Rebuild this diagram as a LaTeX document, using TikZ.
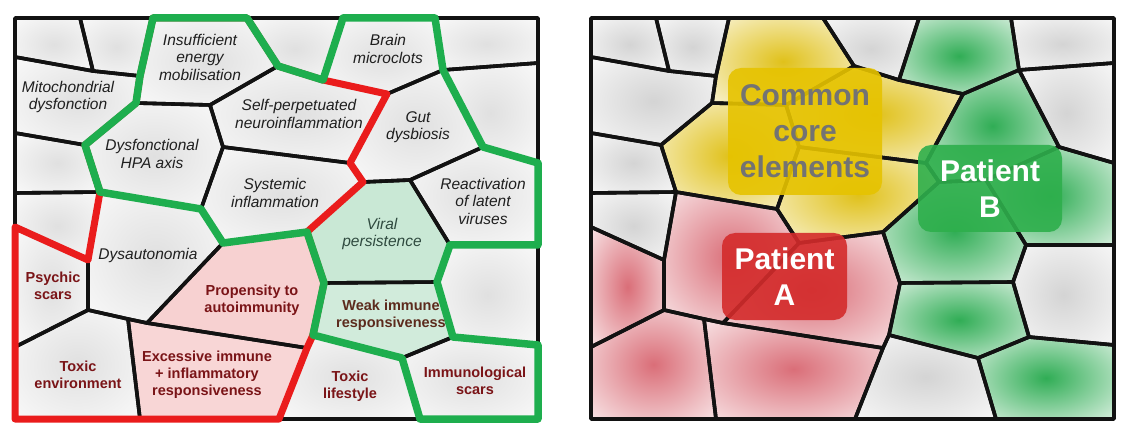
\documentclass[tikz,border=0pt]{standalone}
\usepackage{fontspec}
\setmainfont{Liberation Sans}
\usepackage{tikz}

\definecolor{lineA}{HTML}{EA1C1C}
\definecolor{lineB}{HTML}{1EAE4E}
\definecolor{cellgray}{HTML}{D4D4D4}
\definecolor{lightgray}{HTML}{E0E0E0}
\definecolor{cellyel}{HTML}{E0C11A}
\definecolor{cellred}{HTML}{DA6E78}
\definecolor{cellgreen}{HTML}{30AD55}
\definecolor{pinkfill}{HTML}{F7D1D1}
\definecolor{mintfill}{HTML}{C9E8D5}
\definecolor{darkred}{HTML}{7A1417}
\definecolor{darkbrown}{HTML}{5C2B1D}
\definecolor{viraltext}{HTML}{2F4A3F}
\definecolor{coreyel}{HTML}{E6C300}
\definecolor{boxA}{HTML}{D42B2B}
\definecolor{boxB}{HTML}{2EAF4C}
\colorlet{blobin}{cellgray}
\colorlet{blobout}{white}
\pgfdeclareradialshading[blobin,blobout]{softblob}{\pgfpointorigin}{color(0bp)=(blobin); color(40bp)=(blobout); color(50bp)=(blobout)}

% cells of the tessellation, in pixels
\newcommand{\cTopLeft}{(15,18)--(80,18)--(93,71)--(15,57)--cycle}
\newcommand{\cTopTwo}{(80,18)--(153,18)--(140,76)--(93,71)--cycle}
\newcommand{\cEnergy}{(153,18)--(247,18)--(278,66)--(210,105)--(136,103)--(140,76)--cycle}
\newcommand{\cTopThree}{(247,18)--(343,18)--(323,80)--(278,66)--cycle}
\newcommand{\cBrain}{(343,18)--(435,18)--(443,70)--(387,94)--(323,80)--cycle}
\newcommand{\cTopRight}{(435,18)--(538,18)--(538,63)--(443,70)--cycle}
\newcommand{\cRightTwo}{(443,70)--(538,63)--(538,163)--(483,147)--cycle}
\newcommand{\cMito}{(15,57)--(93,71)--(140,76)--(136,103)--(85,145)--(15,133)--cycle}
\newcommand{\cHPA}{(136,103)--(210,105)--(223,147)--(201,209)--(100,192)--(85,145)--cycle}
\newcommand{\cNeuro}{(210,105)--(278,66)--(323,80)--(387,94)--(350,163)--(223,147)--cycle}
\newcommand{\cGut}{(387,94)--(443,70)--(483,147)--(410,180)--(363,182)--(350,163)--cycle}
\newcommand{\cLeftSix}{(15,133)--(85,145)--(100,192)--(15,193)--cycle}
\newcommand{\cLeftSeven}{(15,193)--(100,192)--(88,260)--(15,227)--cycle}
\newcommand{\cSystemic}{(223,147)--(350,163)--(363,182)--(307,232)--(223,243)--(201,209)--cycle}
\newcommand{\cReact}{(410,180)--(483,147)--(538,163)--(538,245)--(450,245)--cycle}
\newcommand{\cViral}{(307,232)--(363,182)--(410,180)--(450,245)--(437,282)--(324,283)--cycle}
\newcommand{\cDysauto}{(100,192)--(201,209)--(223,243)--(147,323)--(128,319)--(88,310)--(88,260)--cycle}
\newcommand{\cPsychic}{(15,227)--(88,260)--(88,310)--(15,347)--cycle}
\newcommand{\cPropensity}{(147,323)--(223,243)--(307,232)--(324,283)--(313,335)--(307,348)--cycle}
\newcommand{\cWeak}{(324,283)--(437,282)--(453,337)--(402,358)--(313,335)--cycle}
\newcommand{\cRightFive}{(450,245)--(538,245)--(538,345)--(453,337)--(437,282)--cycle}
\newcommand{\cToxEnv}{(15,347)--(88,310)--(128,319)--(140,419)--(15,419)--cycle}
\newcommand{\cExcessive}{(128,319)--(147,323)--(307,348)--(279,419)--(140,419)--cycle}
\newcommand{\cToxLife}{(313,335)--(402,358)--(420,419)--(279,419)--(307,348)--cycle}
\newcommand{\cScars}{(402,358)--(453,337)--(538,345)--(538,419)--(420,419)--cycle}
\newcommand{\allcells}{\cTopLeft,\cTopTwo,\cEnergy,\cTopThree,\cBrain,\cTopRight,\cRightTwo,\cMito,\cHPA,\cNeuro,\cGut,\cLeftSix,\cLeftSeven,\cSystemic,\cReact,\cViral,\cDysauto,\cPsychic,\cPropensity,\cWeak,\cRightFive,\cToxEnv,\cExcessive,\cToxLife,\cScars}

\tikzset{
  cellline/.style={draw=black!93, line width=3.6pt, line join=round},
  pathA/.style={draw=lineA, line width=7pt, line join=round},
  pathB/.style={draw=lineB, line width=7.5pt, line join=round},
  blob/.style={/utils/exec={\colorlet{blobin}{#1}\colorlet{blobout}{#1!9!white}}, shading=softblob},
  itlabel/.style={align=center, text=black!88, font=\fontsize{15.5}{17.5}\selectfont\itshape},
  bflabel/.style={align=center, text=darkred, font=\fontsize{14.5}{17}\selectfont\bfseries},
  tagbox/.style={rounded corners=13pt, fill opacity=.9, text opacity=1, align=center, inner sep=0pt,
    font=\fontsize{30}{36}\selectfont\bfseries}
}

\begin{document}
\begin{tikzpicture}[x=1pt, y=-1pt]
\useasboundingbox (0,0) rectangle (1131,435);

% left panel
\foreach \c in {\cTopLeft,\cTopTwo,\cEnergy,\cTopThree,\cBrain,\cTopRight,\cRightTwo,\cMito,\cHPA,\cNeuro,\cGut,\cLeftSix,\cLeftSeven,\cSystemic,\cReact,\cDysauto,\cPsychic,\cRightFive,\cToxEnv,\cToxLife,\cScars}
  \shade[blob=lightgray] \c;
\fill[pinkfill] \cPropensity;
\fill[pinkfill!90!white] \cExcessive;
\fill[mintfill] \cViral;
\fill[mintfill!85!white] \cWeak;
\foreach \c in \allcells
  \draw[cellline] \c;

\draw[pathA] (153,18) -- (140,76) -- (136,103) -- (85,145) -- (100,192) -- (88,260) -- (15,227) -- (15,419)
  -- (279,419) -- (307,348) -- (313,335) -- (324,283) -- (307,232) -- (363,182) -- (350,163) -- (387,94)
  -- (323,80) -- (278,66) -- (247,18) -- cycle;
\draw[pathB] (153,18) -- (247,18) -- (278,66) -- (323,80) -- (343,18) -- (435,18) -- (443,70) -- (483,147)
  -- (538,163) -- (538,245) -- (450,245) -- (437,282) -- (453,337) -- (538,345) -- (538,419) -- (420,419)
  -- (402,358) -- (313,335) -- (324,283) -- (307,232) -- (223,243) -- (201,209) -- (100,192) -- (85,145)
  -- (136,103) -- (140,76) -- cycle;

\node[itlabel] (mito) at (68,97) {Mitochondrial\\dysfonction};
\node[itlabel] (energy) at (200,57) {Insufficient\\energy\\mobilisation};
\node[itlabel] (hpa) at (152,154) {Dysfonctional\\HPA axis};
\node[itlabel] (neuro) at (299,114) {Self-perpetuated\\neuroinflammation};
\node[itlabel] (systemic) at (275,193) {Systemic\\inflammation};
\node[itlabel] (brain) at (388,49) {Brain\\microclots};
\node[itlabel] (gut) at (418,127) {Gut\\dysbiosis};
\node[itlabel] (react) at (483,201) {Reactivation\\of latent\\viruses};
\node[itlabel, text=viraltext] (viral) at (382,234) {Viral\\persistence};
\node[itlabel] (dysauto) at (148,255) {Dysautonomia};
\node[bflabel] (psychic) at (53,286) {Psychic\\scars};
\node[bflabel] (toxenv) at (78,375) {Toxic\\environment};
\node[bflabel] (excess) at (207,375) {Excessive immune\\+ inflammatory\\responsiveness};
\node[bflabel] (propens) at (252,300) {Propensity to\\autoimmunity};
\node[bflabel, text=darkbrown] (weak) at (391,315) {Weak immune\\responsiveness};
\node[bflabel] (toxlife) at (350,386) {Toxic\\lifestyle};
\node[bflabel] (scars) at (475,381) {Immunological\\scars};

% right panel
\begin{scope}[shift={(576,0)}]
\foreach \c/\col in {\cTopLeft/cellgray,\cTopTwo/cellgray,\cEnergy/cellyel,\cTopThree/cellgray,\cBrain/cellgreen,
    \cTopRight/cellgray,\cRightTwo/cellgray,\cMito/cellgray,\cHPA/cellyel,\cNeuro/cellyel,\cGut/cellgreen,
    \cLeftSix/cellgray,\cLeftSeven/cellgray,\cSystemic/cellyel,\cReact/cellgreen,\cViral/cellgreen,
    \cDysauto/cellred,\cPsychic/cellred,\cPropensity/cellred,\cWeak/cellgreen,\cRightFive/cellgray,
    \cToxEnv/cellred,\cExcessive/cellred,\cToxLife/cellgray,\cScars/cellgreen}
  \shade[blob=\col] \c;
\foreach \c in \allcells
  \draw[cellline] \c;

\node[tagbox, fill=coreyel, text=black!55, minimum width=154pt, minimum height=127pt] (core) at (229,131.5) {Common\\core\\elements};
\node[tagbox, fill=boxA, text=white, minimum width=125pt, minimum height=87pt] (patA) at (208.5,276.5) {Patient\\A};
\node[tagbox, fill=boxB, text=white, minimum width=144pt, minimum height=87pt] (patB) at (414,188.5) {Patient\\B};
\end{scope}
\end{tikzpicture}
\end{document}
